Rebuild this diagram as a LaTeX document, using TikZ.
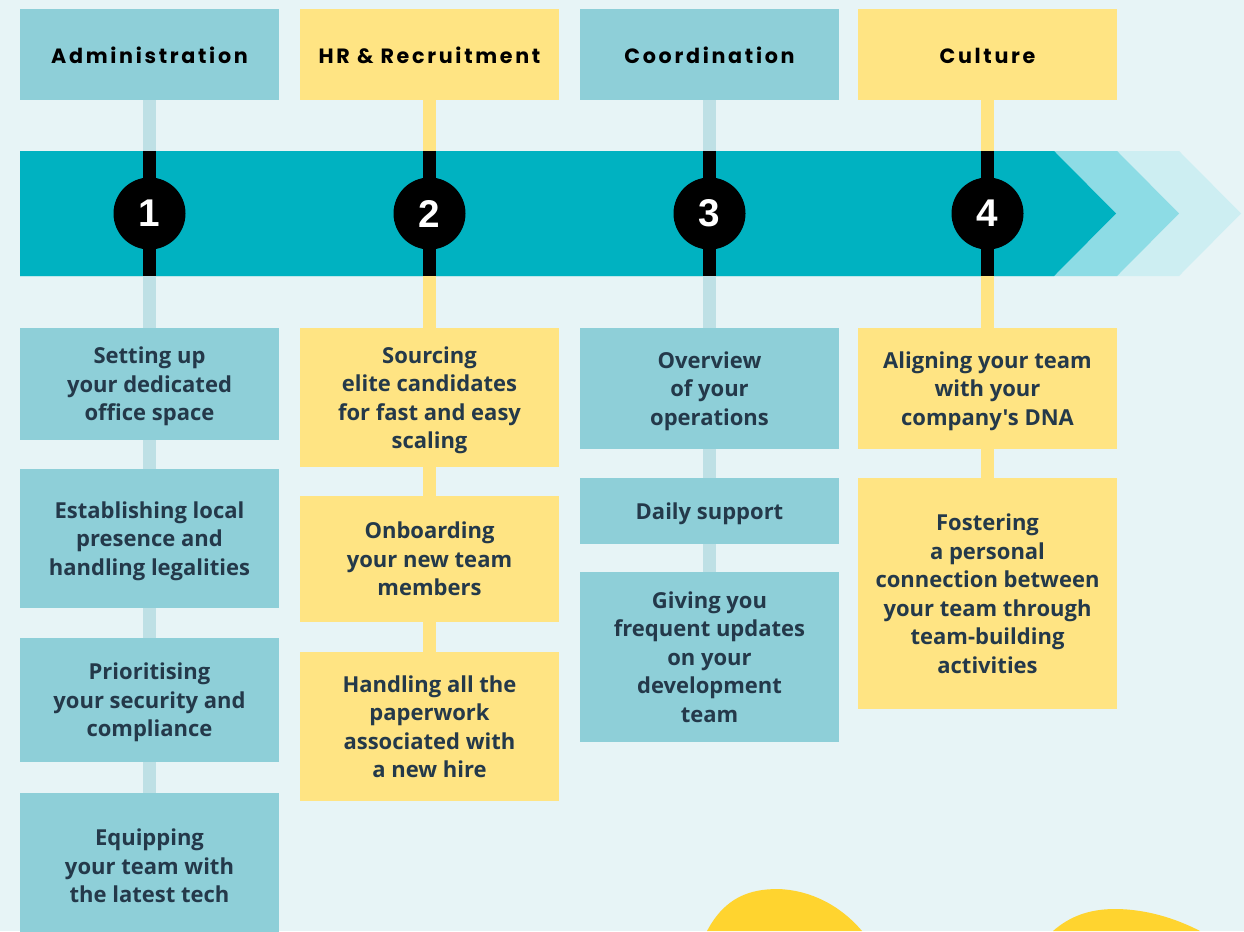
\documentclass[tikz,border=0pt]{standalone}
\usepackage{fontspec}
\setmainfont{Open Sans}
\newfontfamily\bodyfont{Open Sans}
\newfontfamily\headfont[LetterSpace=13]{Poppins}
\newfontfamily\numfont{Liberation Sans}
\usepackage{tikz}

\definecolor{bgcol}{HTML}{E7F4F6}
\definecolor{tealcol}{HTML}{8ECFD8}
\definecolor{yellowcol}{HTML}{FFE483}
\definecolor{bandcol}{HTML}{00B2C1}
\definecolor{chevmid}{HTML}{8DDCE5}
\definecolor{chevlight}{HTML}{CDEEF2}
\definecolor{stemcol}{HTML}{BEE0E5}
\definecolor{inkcol}{HTML}{24394A}
\definecolor{blobcol}{HTML}{FFD42F}

\tikzset{
  head/.style={minimum width=194.25pt, minimum height=68.25pt, inner sep=0pt,
    text=black, text height=14pt, font=\headfont\bfseries\fontsize{15.5}{18}\selectfont},
  card/.style={minimum width=194.25pt, minimum height=#1*0.75pt, inner sep=0pt,
    align=center, text=inkcol, text depth=-2.5pt,
    font=\bodyfont\bfseries\fontsize{16.5}{21.4}\selectfont},
  tealcard/.style={card=#1, fill=tealcol},
  yellowcard/.style={card=#1, fill=yellowcol},
  stemteal/.style={draw=stemcol, line width=9.75pt},
  stemyellow/.style={draw=yellowcol, line width=9.75pt},
  stemblack/.style={draw=black, line width=9.75pt},
  stepnum/.style={circle, fill=black, minimum size=54pt, inner sep=0pt,
    text=white, font=\numfont\bfseries\fontsize{29}{29}\selectfont}
}

\begin{document}
\begin{tikzpicture}[x=0.75pt, y=-0.75pt]
\useasboundingbox (0,0) rectangle (1244,931);
\clip (0,0) rectangle (1244,931);
\fill[bgcol] (0,0) rectangle (1244,931);

% timeline band with chevrons
\fill[chevlight] (20,151) -- (1179,151) -- (1241,213.5) -- (1179,276) -- (20,276) -- cycle;
\fill[chevmid] (20,151) -- (1117,151) -- (1179,213.5) -- (1117,276) -- (20,276) -- cycle;
\fill[bandcol] (20,151) -- (1054,151) -- (1116,213.5) -- (1054,276) -- (20,276) -- cycle;
\coordinate (bandtop) at (0,151);
\coordinate (bandbot) at (0,276);

% blobs
\fill[blobcol] (707,931) .. controls (725,897) and (750,889) .. (778,889)
  .. controls (810,890) and (840,905) .. (862,931) -- cycle;
\fill[blobcol] (1053,931) .. controls (1070,916) and (1090,909) .. (1115,909)
  .. controls (1145,909) and (1175,918) .. (1200,931) -- cycle;

% headers
\node[head, fill=tealcol] (hd1) at (149.5,54.5) {Administration};
\node[head, fill=yellowcol] (hd2) at (429.5,54.5) {HR \& Recruitment};
\node[head, fill=tealcol] (hd3) at (709.5,54.5) {Coordination};
\node[head, fill=yellowcol] (hd4) at (987.5,54.5) {Culture};

% administration
\node[tealcard=112] (a1) at (149.5,384) {Setting up\\your dedicated\\office space};
\node[tealcard=139] (a2) at (149.5,538.5) {Establishing local\\presence and\\handling legalities};
\node[tealcard=124] (a3) at (149.5,700) {Prioritising\\your security and\\compliance};
\node[tealcard=146] (a4) at (149.5,866) {Equipping\\your team with\\the latest tech};

% hr
\node[yellowcard=139] (r1) at (429.5,397.5) {Sourcing\\elite candidates\\for fast and easy\\scaling};
\node[yellowcard=126] (r2) at (429.5,559) {Onboarding\\your new team\\members};
\node[yellowcard=149] (r3) at (429.5,726.5) {Handling all the\\paperwork\\associated with\\a new hire};

% coordination
\node[tealcard=121] (c1) at (709.5,388.5) {Overview\\of your\\operations};
\node[tealcard=66] (c2) at (709.5,511) {Daily support};
\node[tealcard=170] (c3) at (709.5,657) {Giving you\\frequent updates\\on your\\development\\team};

% culture
\node[yellowcard=121] (u1) at (987.5,388.5) {Aligning your team\\with your\\company's DNA};
\node[yellowcard=231] (u2) at (987.5,593.5) {Fostering\\a personal\\connection between\\your team through\\team-building\\activities};

% stems
\draw[stemteal] (hd1) -- (a1);
\draw[stemteal] (a1) -- (a2);
\draw[stemteal] (a2) -- (a3);
\draw[stemteal] (a3) -- (a4);
\draw[stemyellow] (hd2) -- (r1);
\draw[stemyellow] (r1) -- (r2);
\draw[stemyellow] (r2) -- (r3);
\draw[stemteal] (hd3) -- (c1);
\draw[stemteal] (c1) -- (c2);
\draw[stemteal] (c2) -- (c3);
\draw[stemyellow] (hd4) -- (u1);
\draw[stemyellow] (u1) -- (u2);

% black part over the band
\draw[stemblack] (hd1 |- bandtop) -- (hd1 |- bandbot);
\draw[stemblack] (hd2 |- bandtop) -- (hd2 |- bandbot);
\draw[stemblack] (hd3 |- bandtop) -- (hd3 |- bandbot);
\draw[stemblack] (hd4 |- bandtop) -- (hd4 |- bandbot);

% step numbers
\node[stepnum] (n1) at (149.5,213.5) {1};
\node[stepnum] (n2) at (429.5,213.5) {2};
\node[stepnum] (n3) at (709.5,213.5) {3};
\node[stepnum] (n4) at (987.5,213.5) {4};
\end{tikzpicture}
\end{document}
